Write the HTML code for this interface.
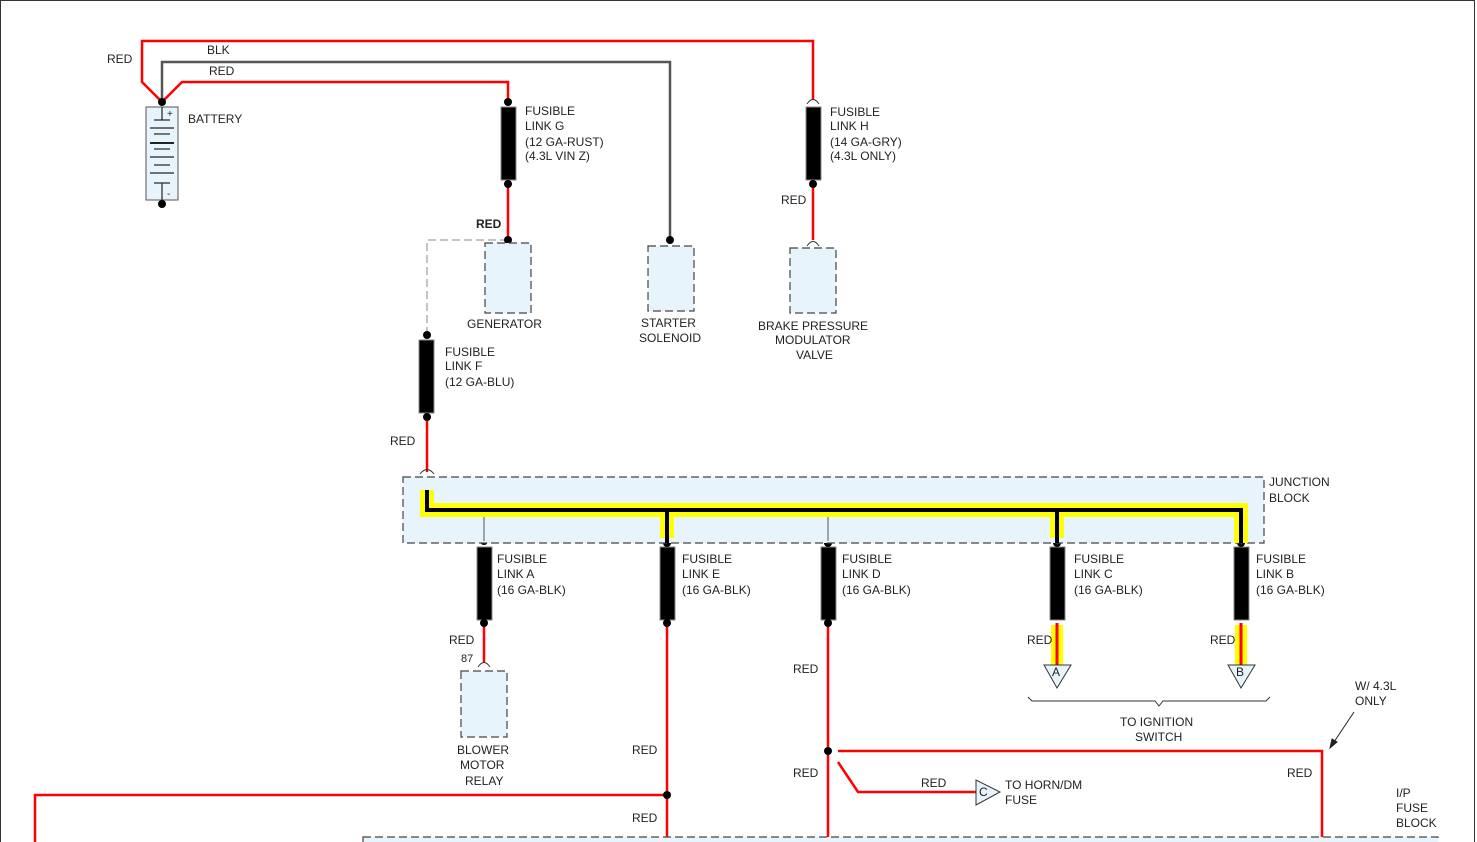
<!DOCTYPE html>
<html><head><meta charset="utf-8"><style>
html,body{margin:0;padding:0;background:#fff}
svg{display:block}
text{font-family:"Liberation Sans",Arial,sans-serif;font-size:12px;fill:#222}
</style></head><body>
<svg width="1477" height="842" viewBox="0 0 1477 842" xmlns="http://www.w3.org/2000/svg">
<rect x="0.5" y="0.5" width="1474" height="850" fill="none" stroke="#333" stroke-width="1"/>
<g fill="none" stroke-width="2.5">
<polyline points="162,102 142,82 142,41 813,41 813,100" stroke="#f00"/>
<polyline points="162,102 162,62 670,62 670,240" stroke="#555"/>
<polyline points="162,102 182,82 508,82 508,102" stroke="#f00"/>
<line x1="508" y1="184" x2="508" y2="240" stroke="#f00"/>
<line x1="813" y1="184" x2="813" y2="240" stroke="#f00"/>
<line x1="427" y1="417" x2="427" y2="472" stroke="#f00"/>
<line x1="484" y1="623" x2="484" y2="662" stroke="#f00"/>
<line x1="667" y1="623" x2="667" y2="842" stroke="#f00"/>
<polyline points="667,795 35,795 35,842" stroke="#f00"/>
<line x1="828" y1="623" x2="828" y2="842" stroke="#f00"/>
<polyline points="838,751 1322,751 1322,842" stroke="#f00"/>
<polyline points="838,762 858,792 976,792" stroke="#f00"/>
</g>
<g fill="none" stroke="#888" stroke-width="1" stroke-dasharray="8,4">
<polyline points="508,240 427,240 427,335"/>
</g>
<rect x="146" y="107" width="32" height="93" fill="#e8f4fc" stroke="#555"/>
<g stroke="#222" stroke-width="1.2">
<line x1="162" y1="107" x2="162" y2="120"/><line x1="154" y1="120" x2="170" y2="120"/>
<line x1="150" y1="128" x2="174" y2="128"/><line x1="154" y1="134" x2="170" y2="134"/>
<line x1="150" y1="143" x2="174" y2="143" stroke-width="2"/><line x1="154" y1="149" x2="170" y2="149"/>
<line x1="150" y1="157" x2="174" y2="157"/><line x1="154" y1="165" x2="170" y2="165"/>
<line x1="150" y1="173" x2="174" y2="173"/><line x1="154" y1="183" x2="170" y2="183"/>
<line x1="162" y1="183" x2="162" y2="200"/>
</g>
<text x="167" y="117" style="font-size:10px">+</text><text x="167" y="197" style="font-size:10px">-</text>
<circle cx="162" cy="102" r="4"/><circle cx="162" cy="204" r="4"/>
<g fill="#000" stroke="#888" stroke-width="1">
<rect x="501" y="107" width="15" height="73"/>
<rect x="806" y="107" width="15" height="73"/>
<rect x="419" y="340" width="15" height="73"/>
<rect x="477" y="547" width="15" height="73"/>
<rect x="660" y="547" width="15" height="73"/>
<rect x="821" y="547" width="15" height="73"/>
<rect x="1050" y="547" width="15" height="73"/>
<rect x="1234" y="547" width="15" height="73"/>
</g>
<g fill="#000">
<circle cx="508" cy="102" r="4"/><circle cx="508" cy="184" r="4"/><circle cx="508" cy="240" r="4"/>
<circle cx="813" cy="184" r="4"/><circle cx="670" cy="240" r="4"/>
<circle cx="427" cy="335" r="4"/><circle cx="427" cy="417" r="4"/>
<circle cx="484" cy="541" r="4"/><circle cx="484" cy="623" r="4"/>
<circle cx="667" cy="543" r="4"/><circle cx="667" cy="623" r="4"/>
<circle cx="828" cy="543" r="4"/><circle cx="828" cy="623" r="4"/>
<circle cx="1057" cy="543" r="4"/><circle cx="1241" cy="543" r="4"/>
<circle cx="667" cy="795" r="4"/><circle cx="828" cy="751" r="4"/>
</g>
<g fill="none" stroke="#333" stroke-width="1">
<path d="M807,104 Q813,95 819,104"/><path d="M807,246 Q813,237 819,246"/>
<path d="M420,474 Q427,465 434,474"/><path d="M478,667 Q484,658 490,667"/>
<path d="M427,478 L427,490 M421,484 L427,478 L433,484"/>
</g>
<g fill="#e8f4fc" stroke="#444" stroke-width="1.2" stroke-dasharray="8,4">
<rect x="485" y="243" width="46" height="70"/>
<rect x="648" y="246" width="46" height="65"/>
<rect x="790" y="248" width="46" height="65"/>
<rect x="461" y="671" width="46" height="66"/>
<rect x="403" y="477" width="861" height="66"/>
<rect x="363" y="837" width="1075" height="20"/>
</g>
<g fill="none" stroke="#ff0" stroke-width="14" stroke-linejoin="miter">
<polyline points="427,490 427,510 1241,510 1241,543"/>
<line x1="667" y1="510" x2="667" y2="538"/><line x1="1057" y1="510" x2="1057" y2="538"/>
</g>
<g fill="none" stroke="#000" stroke-width="4">
<polyline points="427,490 427,510 1241,510 1241,543"/>
<line x1="667" y1="510" x2="667" y2="543"/><line x1="1057" y1="510" x2="1057" y2="543"/>
</g>
<line x1="484" y1="517" x2="484" y2="541" stroke="#555"/>
<line x1="828" y1="517" x2="828" y2="541" stroke="#555"/>
<rect x="1051" y="625" width="12" height="40" fill="#ff0"/><rect x="1235" y="625" width="12" height="40" fill="#ff0"/>
<line x1="1057" y1="623" x2="1057" y2="665" stroke="#f00" stroke-width="3"/>
<line x1="1241" y1="623" x2="1241" y2="665" stroke="#f00" stroke-width="3"/>
<g fill="#e8f4fc" stroke="#333">
<polygon points="1044,665 1071,665 1057,688"/><polygon points="1228,665 1255,665 1241,688"/>
<polygon points="976,780 976,805 1000,792"/>
</g>
<text x="1052" y="676">A</text><text x="1236" y="676">B</text><text x="979" y="796">C</text>
<path d="M1028,697 L1032,701 L1155,701 L1159,706 L1163,701 L1266,701 L1270,697" fill="none" stroke="#333"/>
<line x1="1354" y1="712" x2="1332" y2="745" stroke="#222"/><path d="M1330,748 L1332,739 L1337,742 Z" fill="#222" stroke="#222"/>
<text x="107" y="63">RED</text><text x="207" y="54">BLK</text><text x="209" y="75">RED</text>
<text x="188" y="123">BATTERY</text>
<text x="525" y="115">FUSIBLE</text><text x="525" y="130">LINK G</text><text x="525" y="146">(12 GA-RUST)</text><text x="525" y="160">(4.3L VIN Z)</text>
<text x="476" y="228" style="font-weight:bold">RED</text>
<text x="467" y="328">GENERATOR</text>
<text x="641" y="327">STARTER</text><text x="639" y="342">SOLENOID</text>
<text x="830" y="116">FUSIBLE</text><text x="830" y="130">LINK H</text><text x="830" y="146">(14 GA-GRY)</text><text x="830" y="160">(4.3L ONLY)</text>
<text x="781" y="204">RED</text>
<text x="758" y="330">BRAKE PRESSURE</text><text x="775" y="344">MODULATOR</text><text x="796" y="359">VALVE</text>
<text x="445" y="356">FUSIBLE</text><text x="445" y="370">LINK F</text><text x="445" y="386">(12 GA-BLU)</text>
<text x="390" y="445">RED</text>
<text x="1269" y="486">JUNCTION</text><text x="1269" y="502">BLOCK</text>
<text x="497" y="563">FUSIBLE</text><text x="497" y="578">LINK A</text><text x="497" y="594">(16 GA-BLK)</text>
<text x="682" y="563">FUSIBLE</text><text x="682" y="578">LINK E</text><text x="682" y="594">(16 GA-BLK)</text>
<text x="842" y="563">FUSIBLE</text><text x="842" y="578">LINK D</text><text x="842" y="594">(16 GA-BLK)</text>
<text x="1074" y="563">FUSIBLE</text><text x="1074" y="578">LINK C</text><text x="1074" y="594">(16 GA-BLK)</text>
<text x="1256" y="563">FUSIBLE</text><text x="1256" y="578">LINK B</text><text x="1256" y="594">(16 GA-BLK)</text>
<text x="449" y="644">RED</text><text x="461" y="662" style="font-size:11px">87</text>
<text x="1027" y="644">RED</text><text x="1210" y="644">RED</text>
<text x="457" y="754">BLOWER</text><text x="460" y="769">MOTOR</text><text x="465" y="785">RELAY</text>
<text x="793" y="673">RED</text><text x="632" y="754">RED</text><text x="793" y="777">RED</text><text x="632" y="822">RED</text>
<text x="921" y="787">RED</text><text x="1005" y="789">TO HORN/DM</text><text x="1005" y="804">FUSE</text>
<text x="1120" y="726">TO IGNITION</text><text x="1135" y="741">SWITCH</text>
<text x="1355" y="690">W/ 4.3L</text><text x="1355" y="705">ONLY</text>
<text x="1287" y="777">RED</text>
<text x="1396" y="797">I/P</text><text x="1396" y="812">FUSE</text><text x="1396" y="827">BLOCK</text>
</svg>
</body></html>
